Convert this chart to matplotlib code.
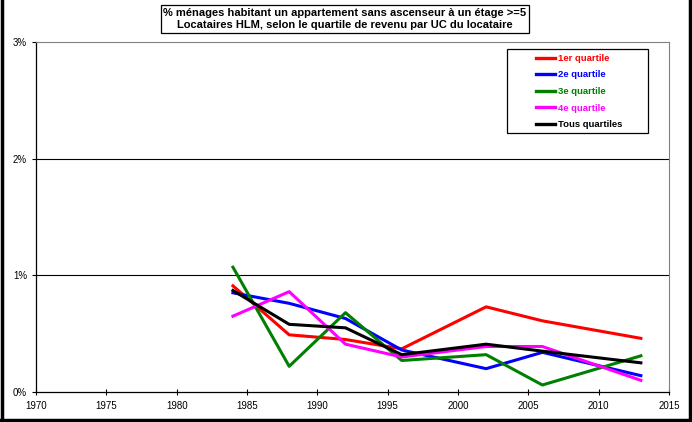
import matplotlib
matplotlib.use('Agg')
from matplotlib import pyplot as plt
from matplotlib.lines import Line2D
from matplotlib.patches import Rectangle
from matplotlib.ticker import FuncFormatter

plt.rcParams['font.family'] = ['Liberation Sans', 'DejaVu Sans']

years = [1984, 1988, 1992, 1996, 2002, 2006, 2013]
q1 = [0.91, 0.49, 0.45, 0.37, 0.73, 0.61, 0.46]
q2 = [0.85, 0.76, 0.63, 0.36, 0.20, 0.34, 0.14]
q3 = [1.07, 0.22, 0.68, 0.27, 0.32, 0.06, 0.31]
q4 = [0.65, 0.86, 0.41, 0.30, 0.39, 0.39, 0.10]
total = [0.87, 0.58, 0.55, 0.32, 0.41, 0.35, 0.25]

labels = ['1er quartile', '2e quartile', '3e quartile', '4e quartile', 'Tous quartiles']
colors = ['#ff0000', '#0000ff', '#008000', '#ff00ff', '#000000']
series = [q1, q2, q3, q4, total]

title = ('% ménages habitant un appartement sans ascenseur à un étage >=5\n'
         'Locataires HLM, selon le quartile de revenu par UC du locataire')

W, H = 692, 422
fig = plt.figure(figsize=(W/100, H/100), dpi=100)
ax = fig.add_axes([36/W, 1-392/H, (669-36)/W, (392-42)/H])

for vals, lab, col in zip(series, labels, colors):
    ax.plot(years, vals, color=col, lw=2.2, label=lab)

ax.set_xlim(1970, 2015)
ax.set_ylim(0, 3)
ax.set_xticks(range(1970, 2016, 5))
ax.set_yticks([0, 1, 2, 3])
ax.yaxis.set_major_formatter(FuncFormatter(lambda v, p: '%d%%' % v))
ax.tick_params(labelsize=7, length=3, width=0.8, color='black')
ax.tick_params(axis='x', direction='inout', length=5, pad=4)
for y in [1, 2]:
    ax.axhline(y, color='black', lw=0.8, zorder=0)
ax.spines['top'].set_color('#808080')
ax.spines['right'].set_color('#808080')
ax.spines['left'].set_linewidth(0.9)
ax.spines['bottom'].set_linewidth(0.9)

# legend frame drawn by hand, entries placed inside it
ax.add_patch(Rectangle((507/W, 1-133/H), (648-507)/W, (133-49)/H,
                       transform=fig.transFigure, fc='white', ec='black',
                       lw=0.9, zorder=4, clip_on=False))
leg = ax.legend(loc='upper left', bbox_to_anchor=(533/W, 1-51/H),
                bbox_transform=fig.transFigure,
                prop={'weight': 'bold', 'size': 6.8}, frameon=False,
                handlelength=2.0, labelspacing=0.8,
                borderpad=0.3, handletextpad=0.4, borderaxespad=0)
leg.set_zorder(5)
for txt, col in zip(leg.get_texts(), colors):
    txt.set_color(col)
for ln in leg.get_lines():
    ln.set_linewidth(2.4)

fig.text(345/W, 1-19/H, title, ha='center', va='center', fontsize=8,
         fontweight='bold', linespacing=1.25,
         bbox=dict(boxstyle='square,pad=0.25', fc='white', ec='black', lw=0.9))

# outer frame
for xs, ys in [([0.003, 0.003], [0, 1]), ([0.997, 0.997], [0, 1]), ([0, 1], [0.004, 0.004])]:
    fig.add_artist(Line2D(xs, ys, transform=fig.transFigure, color='black', lw=2.5))

fig.savefig('out.png', dpi=100)
